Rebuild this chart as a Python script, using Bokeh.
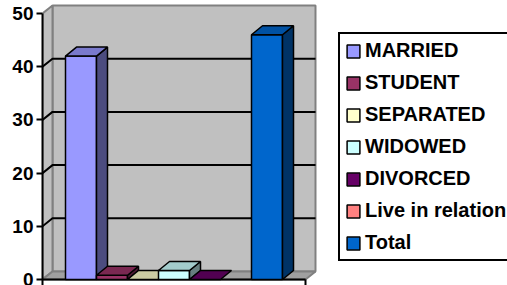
from bokeh.plotting import figure
from bokeh.models import Range1d, LinearAxis, FixedTicker, Legend, LegendItem
from bokeh.embed import file_html
from bokeh.resources import INLINE

# ---- data ----
categories = ["MARRIED", "STUDENT", "SEPARATED", "WIDOWED", "DIVORCED", "Live in relation", "Total"]
values = [42, 0.8, 0, 1.7, 0, None, 46]
colors = ["#9999FF", "#993366", "#FFFFCC", "#CCFFFF", "#660066", "#FF8080", "#0066CC"]
y_ticks = [0, 10, 20, 30, 40, 50]
y_max = 50

# ---- layout constants (pixels) ----
W_PX, H_PX, LEFT = 507, 285, 42
Y0_PX = 279            # canvas y of value 0 on the front axis
Y50_PX = 13            # canvas y of value 50 on the front axis
KY = (Y0_PX - Y50_PX) / y_max   # px per unit
KX = 31.0              # px per bar slot
DXW, DYW = 10 / KX, 8 / KY     # wall depth
DXB, DYB = 11 / KX, 9 / KY     # bar depth
FW = (305 - 42) / KX           # floor width (slots)
B0 = (65 - 42) / KX            # first bar left (slots)

y_end = Y0_PX / KY
y_start = -(H_PX - Y0_PX) / KY
x_end = (W_PX - LEFT) / KX


def shade(hexcol, f):
    h = hexcol.lstrip("#")
    r, g, b = (int(h[i:i + 2], 16) for i in (0, 2, 4))
    return "#%02X%02X%02X" % (int(r * f), int(g * f), int(b * f))


p = figure(width=W_PX, height=H_PX, output_backend="svg", toolbar_location=None,
           x_range=Range1d(0, x_end), y_range=Range1d(y_start, y_end),
           x_axis_type=None, y_axis_type=None,
           min_border_left=LEFT, min_border_right=0, min_border_top=0, min_border_bottom=0)
p.outline_line_color = None
p.background_fill_color = "white"
p.border_fill_color = "white"

# walls and floor
p.quad(left=[DXW], right=[FW + DXW], bottom=[DYW], top=[y_max + DYW],
       fill_color="#C0C0C0", line_color="#808080", line_width=2)
p.patch([0, 0, DXW, DXW], [0, y_max, y_max + DYW, DYW],
        fill_color="#C0C0C0", line_color="#808080", line_width=2)
p.patch([0, FW, FW + DXW, DXW], [0, 0, DYW, DYW],
        fill_color="#A0A0A0", line_color="#808080", line_width=2)

# gridlines
gxs, gys = [], []
for t in y_ticks[1:-1]:
    gxs.append([0, DXW, FW + DXW])
    gys.append([t, t + DYW, t + DYW])
p.multi_line(gxs, gys, line_color="black", line_width=2)

# front base line and end tick
p.segment(x0=[0, FW], y0=[0, 0], x1=[FW, FW], y1=[0, y_start], line_color="black", line_width=2)

# bars
for i, (v, c) in enumerate(zip(values, colors)):
    if v is None:
        continue
    x0 = B0 + i
    x1 = x0 + 1
    if v > 0:
        p.quad(left=[x0], right=[x1], bottom=[0], top=[v], fill_color=c,
               line_color="black", line_width=1.5)
        p.patch([x1, x1 + DXB, x1 + DXB, x1], [0, DYB, v + DYB, v],
                fill_color=shade(c, 0.5), line_color="black", line_width=1.5)
    p.patch([x0, x1, x1 + DXB, x0 + DXB], [v, v, v + DYB, v + DYB],
            fill_color=shade(c, 0.8), line_color="black", line_width=1.5)

# y axis
ax = LinearAxis(ticker=FixedTicker(ticks=y_ticks), bounds=(y_start, y_max))
ax.axis_line_width = 2
ax.axis_line_color = "black"
ax.major_tick_line_width = 2
ax.major_tick_line_color = "black"
ax.major_tick_out = 6
ax.major_tick_in = 0
ax.minor_tick_line_color = None
ax.major_label_standoff = 3
ax.major_label_text_font = "Liberation Sans"
ax.major_label_text_font_style = "bold"
ax.major_label_text_font_size = "19px"
ax.major_label_text_color = "black"
p.add_layout(ax, "left")

# legend (swatch renderers sit outside the visible range)
items = []
for name, c in zip(categories, colors):
    r = p.quad(left=[-10], right=[-9], bottom=[-10], top=[-9], fill_color=c,
               line_color="black", line_width=1.5)
    items.append(LegendItem(label=name, renderers=[r]))
legend = Legend(items=items, location=(296, 24))
legend.border_line_color = "black"
legend.border_line_alpha = 1
legend.border_line_width = 2
legend.background_fill_color = "white"
legend.background_fill_alpha = 1
legend.padding = 5
legend.spacing = 9
legend.margin = 0
legend.glyph_width = 16
legend.glyph_height = 16
legend.label_standoff = 4
legend.label_text_font = "Liberation Sans"
legend.label_text_font_style = "bold"
legend.label_text_font_size = "20px"
legend.label_text_color = "black"
p.add_layout(legend)

open("out.html", "w").write(file_html(p, INLINE))
